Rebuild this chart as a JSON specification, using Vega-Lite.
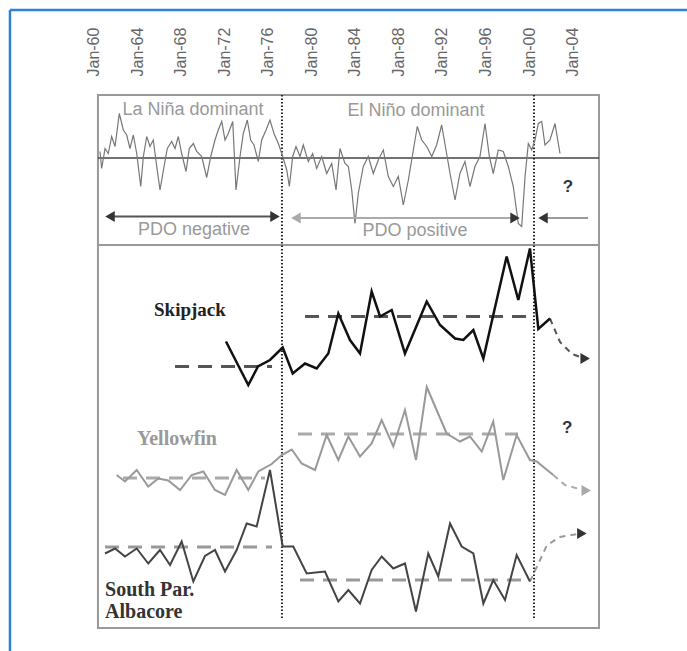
{
"$schema": "https://vega.github.io/schema/vega-lite/v6.json",
"width": 687, "height": 533,
"autosize": {"type": "none"},
"padding": {"left": 0, "top": 95, "right": 0, "bottom": 23},
"background": "white",
"config": {"view": {"stroke": null}},
"datasets": {
"pdo": [
{"yr":1960.59,"lv":95.3},{"yr":1960.74,"lv":91.9},{"yr":1961.05,"lv":95.9},{"yr":1961.35,"lv":94.9},{"yr":1961.66,"lv":98.3},{"yr":1961.97,"lv":96.3},{"yr":1962.36,"lv":102.9},{"yr":1962.73,"lv":99.6},{"yr":1963.04,"lv":98.6},{"yr":1963.34,"lv":95.9},{"yr":1963.65,"lv":98.6},{"yr":1963.96,"lv":94.9},{"yr":1964.33,"lv":88.3},{"yr":1964.57,"lv":94.3},{"yr":1964.88,"lv":98.3},{"yr":1965.18,"lv":96.3},{"yr":1965.48,"lv":97.6},{"yr":1965.80,"lv":92.3},{"yr":1966.10,"lv":87.6},{"yr":1966.47,"lv":92.3},{"yr":1966.77,"lv":95.9},{"yr":1967.17,"lv":97.3},{"yr":1967.48,"lv":95.9},{"yr":1967.78,"lv":98.3},{"yr":1968.09,"lv":94.9},{"yr":1968.49,"lv":91.3},{"yr":1968.79,"lv":95.9},{"yr":1969.16,"lv":96.9},{"yr":1969.47,"lv":95.3},{"yr":1969.93,"lv":94.3},{"yr":1970.39,"lv":90.1},{"yr":1970.76,"lv":94.3},{"yr":1971.15,"lv":97.6},{"yr":1971.45,"lv":99.6},{"yr":1971.77,"lv":101.3},{"yr":1972.07,"lv":97.6},{"yr":1972.37,"lv":98.9},{"yr":1972.78,"lv":101.3},{"yr":1973.08,"lv":87.6},{"yr":1973.45,"lv":94.3},{"yr":1973.75,"lv":98.9},{"yr":1974.12,"lv":101.6},{"yr":1974.43,"lv":97.6},{"yr":1974.73,"lv":96.6},{"yr":1975.13,"lv":93.3},{"yr":1975.44,"lv":97.6},{"yr":1975.84,"lv":99.6},{"yr":1976.20,"lv":101.6},{"yr":1976.57,"lv":98.9},{"yr":1976.97,"lv":96.9},{"yr":1977.37,"lv":94.3},{"yr":1977.74,"lv":91.6},{"yr":1977.98,"lv":88.3},{"yr":1978.29,"lv":94.3},{"yr":1978.59,"lv":96.3},{"yr":1978.96,"lv":94.3},{"yr":1979.26,"lv":96.6},{"yr":1979.72,"lv":93.3},{"yr":1980.12,"lv":94.9},{"yr":1980.49,"lv":91.9},{"yr":1980.95,"lv":94.3},{"yr":1981.41,"lv":90.9},{"yr":1981.87,"lv":92.9},{"yr":1982.27,"lv":87.6},{"yr":1982.63,"lv":95.9},{"yr":1983.09,"lv":92.9},{"yr":1983.40,"lv":92.3},{"yr":1983.71,"lv":87.6},{"yr":1984.01,"lv":80.9},{"yr":1984.31,"lv":86.9},{"yr":1984.77,"lv":92.3},{"yr":1985.23,"lv":94.3},{"yr":1985.69,"lv":90.9},{"yr":1986.15,"lv":93.6},{"yr":1986.61,"lv":95.6},{"yr":1987.07,"lv":90.3},{"yr":1987.53,"lv":88.3},{"yr":1987.99,"lv":90.3},{"yr":1988.45,"lv":84.6},{"yr":1988.91,"lv":89.6},{"yr":1989.37,"lv":95.6},{"yr":1989.73,"lv":100.3},{"yr":1990.14,"lv":97.6},{"yr":1990.60,"lv":96.3},{"yr":1991.06,"lv":94.3},{"yr":1991.51,"lv":96.6},{"yr":1991.97,"lv":100.6},{"yr":1992.37,"lv":95.6},{"yr":1992.74,"lv":90.9},{"yr":1993.20,"lv":85.6},{"yr":1993.65,"lv":90.9},{"yr":1994.11,"lv":93.3},{"yr":1994.57,"lv":88.3},{"yr":1995.03,"lv":92.3},{"yr":1995.49,"lv":94.3},{"yr":1995.95,"lv":100.9},{"yr":1996.35,"lv":94.3},{"yr":1996.71,"lv":90.9},{"yr":1997.17,"lv":95.6},{"yr":1997.63,"lv":95.3},{"yr":1998.09,"lv":92.3},{"yr":1998.55,"lv":88.3},{"yr":1999.01,"lv":80.9},{"yr":1999.32,"lv":80.3},{"yr":1999.63,"lv":90.3},{"yr":1999.93,"lv":96.9},{"yr":2000.24,"lv":95.6},{"yr":2000.54,"lv":97.6},{"yr":2000.85,"lv":100.9},{"yr":2001.16,"lv":101.3},{"yr":2001.46,"lv":96.6},{"yr":2001.92,"lv":97.6},{"yr":2002.38,"lv":100.9},{"yr":2002.84,"lv":94.9}
],
"catch": [
{"series":"Skipjack","yr":1972.16,"lv":57.3},{"series":"Skipjack","yr":1974.21,"lv":48.6},{"series":"Skipjack","yr":1975.10,"lv":52.3},{"series":"Skipjack","yr":1976.20,"lv":53.6},{"series":"Skipjack","yr":1977.37,"lv":56.1},{"series":"Skipjack","yr":1978.29,"lv":50.9},{"series":"Skipjack","yr":1979.42,"lv":52.9},{"series":"Skipjack","yr":1980.49,"lv":51.9},{"series":"Skipjack","yr":1981.56,"lv":54.9},{"series":"Skipjack","yr":1982.48,"lv":62.9},{"series":"Skipjack","yr":1983.55,"lv":57.6},{"series":"Skipjack","yr":1984.47,"lv":54.9},{"series":"Skipjack","yr":1985.54,"lv":67.3},{"series":"Skipjack","yr":1986.31,"lv":62.3},{"series":"Skipjack","yr":1987.38,"lv":63.6},{"series":"Skipjack","yr":1988.60,"lv":54.9},{"series":"Skipjack","yr":1990.60,"lv":65.3},{"series":"Skipjack","yr":1991.82,"lv":60.6},{"series":"Skipjack","yr":1993.20,"lv":57.9},{"series":"Skipjack","yr":1993.96,"lv":57.6},{"series":"Skipjack","yr":1994.88,"lv":59.6},{"series":"Skipjack","yr":1995.80,"lv":53.9},{"series":"Skipjack","yr":1996.71,"lv":62.6},{"series":"Skipjack","yr":1997.94,"lv":74.3},{"series":"Skipjack","yr":1999.01,"lv":65.6},{"series":"Skipjack","yr":2000.08,"lv":75.9},{"series":"Skipjack","yr":2000.85,"lv":59.8},{"series":"Skipjack","yr":2001.92,"lv":61.9},
{"series":"Yellowfin","yr":1962.12,"lv":30.6},{"series":"Yellowfin","yr":1962.88,"lv":29.3},{"series":"Yellowfin","yr":1963.96,"lv":31.6},{"series":"Yellowfin","yr":1965.02,"lv":28.3},{"series":"Yellowfin","yr":1965.94,"lv":29.9},{"series":"Yellowfin","yr":1966.86,"lv":29.5},{"series":"Yellowfin","yr":1967.94,"lv":27.6},{"series":"Yellowfin","yr":1969.01,"lv":30.6},{"series":"Yellowfin","yr":1970.08,"lv":31.3},{"series":"Yellowfin","yr":1971.15,"lv":27.6},{"series":"Yellowfin","yr":1972.07,"lv":26.6},{"series":"Yellowfin","yr":1973.14,"lv":31.6},{"series":"Yellowfin","yr":1974.21,"lv":27.6},{"series":"Yellowfin","yr":1975.13,"lv":31.3},{"series":"Yellowfin","yr":1976.36,"lv":32.8},{"series":"Yellowfin","yr":1977.28,"lv":34.6},{"series":"Yellowfin","yr":1978.20,"lv":35.7},{"series":"Yellowfin","yr":1979.11,"lv":32.9},{"series":"Yellowfin","yr":1980.34,"lv":31.6},{"series":"Yellowfin","yr":1981.41,"lv":38.6},{"series":"Yellowfin","yr":1982.48,"lv":33.6},{"series":"Yellowfin","yr":1983.40,"lv":38.3},{"series":"Yellowfin","yr":1984.47,"lv":34.3},{"series":"Yellowfin","yr":1985.54,"lv":36.9},{"series":"Yellowfin","yr":1986.46,"lv":41.6},{"series":"Yellowfin","yr":1987.53,"lv":36.3},{"series":"Yellowfin","yr":1988.60,"lv":43.6},{"series":"Yellowfin","yr":1989.61,"lv":33.6},{"series":"Yellowfin","yr":1990.60,"lv":48.2},{"series":"Yellowfin","yr":1992.43,"lv":38.9},{"series":"Yellowfin","yr":1993.65,"lv":37.3},{"series":"Yellowfin","yr":1994.57,"lv":38.3},{"series":"Yellowfin","yr":1995.65,"lv":35.3},{"series":"Yellowfin","yr":1996.71,"lv":41.3},{"series":"Yellowfin","yr":1997.63,"lv":29.6},{"series":"Yellowfin","yr":1998.86,"lv":38.6},{"series":"Yellowfin","yr":2000.08,"lv":33.6},{"series":"Yellowfin","yr":2000.70,"lv":33.3},{"series":"Yellowfin","yr":2002.22,"lv":30.6},
{"series":"Albacore","yr":1961.05,"lv":14.9},{"series":"Albacore","yr":1961.97,"lv":15.9},{"series":"Albacore","yr":1962.88,"lv":14.3},{"series":"Albacore","yr":1963.96,"lv":15.9},{"series":"Albacore","yr":1965.02,"lv":12.9},{"series":"Albacore","yr":1966.10,"lv":15.6},{"series":"Albacore","yr":1967.02,"lv":12.6},{"series":"Albacore","yr":1968.09,"lv":17.3},{"series":"Albacore","yr":1969.16,"lv":9.3},{"series":"Albacore","yr":1970.23,"lv":14.4},{"series":"Albacore","yr":1971.15,"lv":15.6},{"series":"Albacore","yr":1972.07,"lv":11.3},{"series":"Albacore","yr":1973.14,"lv":15.6},{"series":"Albacore","yr":1974.06,"lv":20.9},{"series":"Albacore","yr":1974.98,"lv":20.3},{"series":"Albacore","yr":1976.20,"lv":31.6},{"series":"Albacore","yr":1977.37,"lv":16.3},{"series":"Albacore","yr":1978.34,"lv":16.3},{"series":"Albacore","yr":1979.57,"lv":10.9},{"series":"Albacore","yr":1981.25,"lv":11.3},{"series":"Albacore","yr":1982.48,"lv":5.3},{"series":"Albacore","yr":1983.40,"lv":7.6},{"series":"Albacore","yr":1984.47,"lv":4.9},{"series":"Albacore","yr":1985.54,"lv":11.6},{"series":"Albacore","yr":1986.46,"lv":14.3},{"series":"Albacore","yr":1987.53,"lv":11.9},{"series":"Albacore","yr":1988.60,"lv":12.9},{"series":"Albacore","yr":1989.61,"lv":3.3},{"series":"Albacore","yr":1990.74,"lv":14.9},{"series":"Albacore","yr":1991.66,"lv":10.3},{"series":"Albacore","yr":1992.74,"lv":20.9},{"series":"Albacore","yr":1993.81,"lv":16.3},{"series":"Albacore","yr":1994.88,"lv":14.9},{"series":"Albacore","yr":1995.80,"lv":4.9},{"series":"Albacore","yr":1996.71,"lv":9.6},{"series":"Albacore","yr":1997.79,"lv":5.6},{"series":"Albacore","yr":1998.86,"lv":14.6},{"series":"Albacore","yr":2000.08,"lv":9.3}
],
"trend": [
{"series":"Skipjack","yr":2001.92,"lv":61.9},{"series":"Skipjack","yr":2002.84,"lv":57.2},{"series":"Skipjack","yr":2003.94,"lv":54.8},{"series":"Skipjack","yr":2004.95,"lv":54.0},
{"series":"Yellowfin","yr":2002.22,"lv":30.6},{"series":"Yellowfin","yr":2003.30,"lv":28.6},{"series":"Yellowfin","yr":2004.95,"lv":27.6},
{"series":"Albacore","yr":2000.08,"lv":9.3},{"series":"Albacore","yr":2001.65,"lv":16.6},{"series":"Albacore","yr":2002.84,"lv":18.2},{"series":"Albacore","yr":2004.49,"lv":18.8}
],
"means": [
{"series":"Skipjack","yr":1967.48,"yr2":1976.39,"lv":52.3},{"series":"Skipjack","yr":1979.42,"yr2":2000.27,"lv":62.3},
{"series":"Yellowfin","yr":1962.70,"yr2":1975.74,"lv":30.0},{"series":"Yellowfin","yr":1978.77,"yr2":1998.98,"lv":38.8},
{"series":"Albacore","yr":1961.05,"yr2":1976.39,"lv":16.2},{"series":"Albacore","yr":1978.96,"yr2":2000.08,"lv":9.6}
],
"shafts": [
{"arrow":"PDO negative","yr":1961.51,"yr2":1976.66,"lv":82.3},
{"arrow":"PDO positive","yr":1978.59,"yr2":1998.71,"lv":82.0},
{"arrow":"PDO future","yr":2001.28,"yr2":2005.41,"lv":82.0}
],
"heads": [
{"arrow":"PDO negative","dir":"left","yr":1961.51,"lv":82.3},
{"arrow":"PDO negative","dir":"right","yr":1976.66,"lv":82.3},
{"arrow":"PDO positive","dir":"left","yr":1978.59,"lv":82.0},
{"arrow":"PDO positive","dir":"right","yr":1998.71,"lv":82.0},
{"arrow":"PDO future","dir":"left","yr":2001.28,"lv":82.0},
{"arrow":"Skipjack trend","dir":"right","yr":2005.15,"lv":53.9},
{"arrow":"Yellowfin trend","dir":"right","yr":2005.25,"lv":27.5},
{"arrow":"Albacore trend","dir":"right","yr":2004.85,"lv":18.9}
]
},
"encoding": {
"x": {"field": "yr", "type": "quantitative",
 "scale": {"domain": [1951.403, 2014.505], "nice": false, "zero": false},
 "axis": {"orient": "top", "values": [1960,1964,1968,1972,1976,1980,1984,1988,1992,1996,2000,2004],
  "labelExpr": "'Jan-' + substring(toString(datum.value), 2, 4)",
  "labelAngle": 270, "labelAlign": "left", "labelBaseline": "middle", "labelPadding": 19,
  "labelOverlap": false, "labelBound": false, "labelFlush": false,
  "domain": false, "ticks": false, "grid": false, "title": null,
  "labelFont": "Liberation Sans", "labelFontSize": 16, "labelColor": "#666"}},
"y": {"field": "lv", "type": "quantitative", "scale": {"domain": [0, 106.6], "nice": false, "zero": false}, "axis": null}
},
"layer": [
{"data": {"values": [{"part":"frame top","yr":1952.32,"yr2":2014.505,"lv":123.6}]},
 "mark": {"type": "rule", "color": "#2f80d8", "strokeWidth": 2.5},
 "encoding": {"x2": {"field": "yr2"}}},
{"data": {"values": [{"part":"frame left","yr":1952.32,"lv":123.6,"lv2":-4.6}]},
 "mark": {"type": "rule", "color": "#2f80d8", "strokeWidth": 2.5},
 "encoding": {"y2": {"field": "lv2"}}},
{"data": {"values": [{"part":"box","yr":1960.40,"yr2":2006.42,"lv":0,"lv2":106.6}]},
 "mark": {"type": "rect", "fill": "white", "fillOpacity": 0, "stroke": "#999", "strokeWidth": 2},
 "encoding": {"x2": {"field": "yr2"}, "y2": {"field": "lv2"}}},
{"data": {"values": [{"part":"separator","yr":1960.40,"yr2":2006.42,"lv":76.6}]},
 "mark": {"type": "rule", "color": "#999", "strokeWidth": 2},
 "encoding": {"x2": {"field": "yr2"}}},
{"data": {"values": [{"part":"zero","yr":1960.40,"yr2":2006.42,"lv":94.0}]},
 "mark": {"type": "rule", "color": "#444", "strokeWidth": 1.5},
 "encoding": {"x2": {"field": "yr2"}}},
{"data": {"values": [{"shift":"1977","yr":1977.3,"lv":106.6,"lv2":1.6},{"shift":"1999","yr":2000.45,"lv":106.6,"lv2":1.6}]},
 "mark": {"type": "rule", "color": "#222", "strokeWidth": 2, "strokeDash": [1.5, 2]},
 "encoding": {"y2": {"field": "lv2"}}},
{"data": {"name": "pdo"},
 "mark": {"type": "line", "color": "#777", "strokeWidth": 1.2},
 "encoding": {}},
{"data": {"name": "shafts"},
 "mark": {"type": "rule", "strokeWidth": 2.2},
 "encoding": {"x2": {"field": "yr2"},
  "color": {"field": "arrow", "type": "nominal", "scale": {"domain": ["PDO negative","PDO positive","PDO future"], "range": ["#555","#aaa","#999"]}, "legend": null}}},
{"data": {"name": "means"},
 "mark": {"type": "rule", "strokeWidth": 3, "strokeDash": [14, 9]},
 "encoding": {"x2": {"field": "yr2"},
  "color": {"field": "series", "type": "nominal", "scale": {"domain": ["Skipjack","Yellowfin","Albacore"], "range": ["#111","#888","#333"]}, "legend": null}}},
{"data": {"name": "trend"},
 "mark": {"type": "line", "strokeWidth": 2, "strokeDash": [6, 5]},
 "encoding": {"detail": {"field": "series"},
  "color": {"field": "series", "type": "nominal", "scale": {"domain": ["Skipjack","Yellowfin","Albacore"], "range": ["#111","#aaa","#444"]}, "legend": null}}},
{"data": {"name": "catch"},
 "transform": [{"filter": "datum.series == 'Yellowfin'"}],
 "mark": {"type": "line", "color": "#999", "strokeWidth": 2},
 "encoding": {}},
{"data": {"name": "catch"},
 "transform": [{"filter": "datum.series == 'Albacore'"}],
 "mark": {"type": "line", "color": "#444", "strokeWidth": 2},
 "encoding": {}},
{"data": {"name": "catch"},
 "transform": [{"filter": "datum.series == 'Skipjack'"}],
 "mark": {"type": "line", "color": "#111", "strokeWidth": 2.5},
 "encoding": {}},
{"data": {"name": "heads"},
 "transform": [{"filter": "(datum.arrow == 'PDO positive' && datum.dir == 'left') || datum.arrow == 'Yellowfin trend'"}],
 "mark": {"type": "point", "filled": true, "color": "#aaa", "opacity": 1, "size": 120},
 "encoding": {"shape": {"field": "dir", "type": "nominal", "scale": {"domain": ["left","right"], "range": ["triangle-left","triangle-right"]}, "legend": null}}},
{"data": {"name": "heads"},
 "transform": [{"filter": "!((datum.arrow == 'PDO positive' && datum.dir == 'left') || datum.arrow == 'Yellowfin trend')"}],
 "mark": {"type": "point", "filled": true, "color": "#333", "opacity": 1, "size": 120},
 "encoding": {"shape": {"field": "dir", "type": "nominal", "scale": {"domain": ["left","right"], "range": ["triangle-left","triangle-right"]}, "legend": null}}},
{"data": {"values": [
  {"label":"La Niña dominant","yr":1969.13,"lv":103.6},
  {"label":"El Niño dominant","yr":1989.61,"lv":103.4},
  {"label":"PDO negative","yr":1969.22,"lv":79.6},
  {"label":"PDO positive","yr":1989.52,"lv":79.4}]},
 "mark": {"type": "text", "font": "Liberation Sans", "fontSize": 18, "color": "#999", "align": "center", "baseline": "middle"},
 "encoding": {"text": {"field": "label"}}},
{"data": {"values": [
  {"label":"?","yr":2003.58,"lv":88.2},
  {"label":"?","yr":2003.49,"lv":40.0}]},
 "mark": {"type": "text", "font": "Liberation Sans", "fontSize": 17, "fontWeight": "bold", "color": "#333", "align": "center", "baseline": "middle"},
 "encoding": {"text": {"field": "label"}}},
{"data": {"values": [{"label":"Skipjack","yr":1968.85,"lv":63.6}]},
 "mark": {"type": "text", "font": "Liberation Serif", "fontSize": 19, "fontWeight": "bold", "color": "#222", "align": "center", "baseline": "middle"},
 "encoding": {"text": {"field": "label"}}},
{"data": {"values": [{"label":"Yellowfin","yr":1967.66,"lv":37.8}]},
 "mark": {"type": "text", "font": "Liberation Serif", "fontSize": 20, "fontWeight": "bold", "color": "#999", "align": "center", "baseline": "middle"},
 "encoding": {"text": {"field": "label"}}},
{"data": {"values": [{"label":"South Par.","yr":1961.05,"lv":7.6},{"label":"Albacore","yr":1961.05,"lv":3.3}]},
 "mark": {"type": "text", "font": "Liberation Serif", "fontSize": 20, "fontWeight": "bold", "color": "#333", "align": "left", "baseline": "middle"},
 "encoding": {"text": {"field": "label"}}}
]
}
